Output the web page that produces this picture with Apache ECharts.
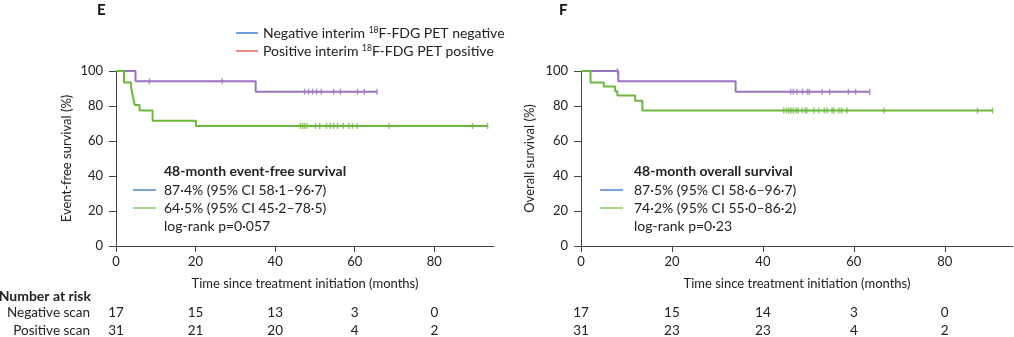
<!DOCTYPE html>
<html>
<head>
<meta charset="utf-8">
<script src="https://cdn.jsdelivr.net/npm/echarts@6/dist/echarts.min.js"></script>
<style>
  html, body { margin: 0; padding: 0; background: #fff; }
  #chart { width: 1014px; height: 337px; }
</style>
</head>
<body>
<div id="chart"></div>
<script>
// Kaplan–Meier curves: step times (months) and survival (%) at each step
const xTicks = [0, 20, 40, 60, 80];
const yTicks = [0, 20, 40, 60, 80, 100];

// Panel E – event-free survival
const efsNegTimes = [0, 4.9, 35.1];
const efsNegSurv = [100, 94.1, 88.2];
const efsNegEnd = 65.6;
const efsNegCensor = [8.4, 26.7, 47.4, 48.4, 49.4, 50.4, 51.6, 54.7, 56.4, 60.7, 62.4, 65.6];

const efsPosTimes = [0, 2.0, 3.8, 4.1, 4.4, 4.7, 5.9, 9.2, 20.1];
const efsPosSurv = [100, 93.5, 90.3, 87.1, 83.9, 80.6, 77.4, 71.6, 68.6];
const efsPosEnd = 93.4;
const efsPosCensor = [46.3, 46.9, 47.4, 48.0, 50.1, 51.2, 52.9, 53.9, 54.7, 55.7, 57.1, 58.5, 59.4, 60.6, 68.6, 89.6, 93.4];

// Panel F – overall survival
const osNegTimes = [0, 8.2, 34.0];
const osNegSurv = [100, 94.1, 88.2];
const osNegEnd = 63.5;
const osNegCensor = [8.0, 46.1, 46.7, 47.5, 48.7, 49.8, 50.2, 53.0, 54.7, 58.8, 60.4, 63.5];

const osPosTimes = [0, 2.1, 5.0, 7.5, 8.0, 11.9, 13.5];
const osPosSurv = [100, 93.5, 91.2, 88.5, 86.0, 83.0, 77.4];
const osPosEnd = 90.5;
const osPosCensor = [44.6, 45.2, 45.7, 46.2, 46.7, 47.3, 47.7, 48.6, 49.3, 49.7, 51.2, 52.3, 53.5, 54.1, 55.2, 55.6, 56.7, 57.3, 58.5, 66.6, 87.2, 90.5];

// Number at risk at 0, 20, 40, 60, 80 months
const efsRiskNeg = [17, 15, 13, 3, 0];
const efsRiskPos = [31, 21, 20, 4, 2];
const osRiskNeg = [17, 15, 14, 3, 0];
const osRiskPos = [31, 23, 23, 4, 2];

const PURPLE = '#9a74c0';
const GREEN = '#6cb83c';
const FONT = 'Lato, "Noto Sans", sans-serif';
const TXT = '#222';

function stepData(times, surv, end) {
  const d = times.map((t, i) => [t, surv[i]]);
  d.push([end, surv[surv.length - 1]]);
  return d;
}
function survAt(times, surv, t) {
  let v = surv[0];
  for (let i = 0; i < times.length; i++) if (times[i] <= t) v = surv[i];
  return v;
}
function censorData(times, surv, cens) {
  return cens.map(t => [t, survAt(times, surv, t)]);
}

function xAxis(gi) {
  return {
    type: 'value', gridIndex: gi, min: 0, max: 95, interval: 20,
    name: 'Time since treatment initiation (months)',
    nameLocation: 'middle', nameGap: 31,
    nameTextStyle: { fontFamily: FONT, fontSize: 13, color: TXT },
    axisLine: { lineStyle: { color: '#444', width: 1 } },
    axisTick: { length: 6, lineStyle: { color: '#444' }, customValues: xTicks },
    axisLabel: { customValues: xTicks, margin: 9, fontFamily: FONT, fontSize: 13, color: TXT },
    splitLine: { show: false }
  };
}
function yAxis(gi, name, gap) {
  return {
    type: 'value', gridIndex: gi, min: 0, max: 100, interval: 20,
    name: name, nameLocation: 'middle', nameGap: gap,
    nameTextStyle: { fontFamily: FONT, fontSize: 13, color: TXT },
    axisLine: { show: true, lineStyle: { color: '#444', width: 1 } },
    axisTick: { show: true, length: 7, lineStyle: { color: '#444' }, customValues: yTicks },
    axisLabel: { customValues: yTicks, margin: 13, fontFamily: FONT, fontSize: 13, color: TXT },
    splitLine: { show: false }
  };
}
function kmLine(gi, data, color) {
  return {
    type: 'line', xAxisIndex: gi, yAxisIndex: gi, step: 'end', data: data,
    symbol: 'none', lineStyle: { color: color, width: 2 }, silent: true, z: 2
  };
}
function censor(gi, data, color) {
  return {
    type: 'scatter', xAxisIndex: gi, yAxisIndex: gi, data: data,
    symbol: 'rect', symbolSize: [1.4, 6], itemStyle: { color: color }, silent: true, z: 3
  };
}

const chart = echarts.init(document.getElementById('chart'), null, { renderer: 'canvas' });
chart.setOption({
  animation: false,
  backgroundColor: '#fff',
  grid: [
    { left: 116, top: 71, width: 378, height: 175 },
    { left: 581, top: 71, width: 432, height: 175 }
  ],
  xAxis: [xAxis(0), xAxis(1)],
  yAxis: [yAxis(0, 'Event-free survival (%)', 43), yAxis(1, 'Overall survival (%)', 45)],
  series: [
    kmLine(0, stepData(efsNegTimes, efsNegSurv, efsNegEnd), PURPLE),
    censor(0, censorData(efsNegTimes, efsNegSurv, efsNegCensor), PURPLE),
    kmLine(0, stepData(efsPosTimes, efsPosSurv, efsPosEnd), GREEN),
    censor(0, censorData(efsPosTimes, efsPosSurv, efsPosCensor), GREEN),
    kmLine(1, stepData(osNegTimes, osNegSurv, osNegEnd), PURPLE),
    censor(1, censorData(osNegTimes, osNegSurv, osNegCensor), PURPLE),
    kmLine(1, stepData(osPosTimes, osPosSurv, osPosEnd), GREEN),
    censor(1, censorData(osPosTimes, osPosSurv, osPosCensor), GREEN)
  ]
});

// Text, legend keys and risk table
const g = [];
function text(x, y, str, opt) {
  g.push({
    type: 'text', x: x, y: y, silent: true,
    style: Object.assign({ text: str, fontFamily: FONT, fontSize: 14, fill: TXT,
      textAlign: 'left', textVerticalAlign: 'middle' }, opt || {})
  });
}
function key(x1, x2, y, color) {
  g.push({ type: 'line', silent: true, shape: { x1: x1, y1: y, x2: x2, y2: y },
    style: { stroke: color, lineWidth: 2 } });
}

text(97, 10, 'E', { fontWeight: 'bold', fontSize: 15, fill: '#111' });
text(559, 10, 'F', { fontWeight: 'bold', fontSize: 15, fill: '#111' });

// legend
const supRich = {
  sup: { fontFamily: FONT, fontSize: 8.5, fill: TXT, verticalAlign: 'top', padding: [0, 0, 5, 0] },
  n: { fontFamily: FONT, fontSize: 14, fill: TXT }
};
key(236, 258, 33, '#6a9fd8');
g.push({ type: 'text', x: 263, y: 33, silent: true,
  style: { text: '{n|Negative interim }{sup|18}{n|F-FDG PET negative}', rich: supRich,
    textVerticalAlign: 'middle', fontFamily: FONT, fontSize: 14, fill: TXT } });
key(236, 258, 51, '#f08a8a');
g.push({ type: 'text', x: 263, y: 51, silent: true,
  style: { text: '{n|Positive interim }{sup|18}{n|F-FDG PET positive}', rich: supRich,
    textVerticalAlign: 'middle', fontFamily: FONT, fontSize: 14, fill: TXT } });

// summary boxes
text(164, 171, '48-month event-free survival', { fontWeight: 'bold' });
key(133, 156, 190, '#78a6dc');
text(164, 190, '87·4% (95% CI 58·1–96·7)');
key(133, 156, 208, '#a6d98a');
text(164, 208, '64·5% (95% CI 45·2–78·5)');
text(164, 226, 'log-rank p=0·057');

text(634, 171, '48-month overall survival', { fontWeight: 'bold' });
key(600, 623, 190, '#78a6dc');
text(634, 190, '87·5% (95% CI 58·6–96·7)');
key(600, 623, 208, '#a6d98a');
text(634, 208, '74·2% (95% CI 55·0–86·2)');
text(634, 226, 'log-rank p=0·23');

// number at risk
text(91, 296, 'Number at risk', { fontWeight: 'bold', textAlign: 'right' });
text(90, 313, 'Negative scan', { textAlign: 'right', fontSize: 13.5 });
text(90, 331, 'Positive scan', { textAlign: 'right', fontSize: 13.5 });
function riskRow(axisIdx, vals, y) {
  xTicks.forEach((t, i) => {
    const px = chart.convertToPixel({ xAxisIndex: axisIdx }, t);
    text(px, y, String(vals[i]), { textAlign: 'center', fontSize: 13.5 });
  });
}
riskRow(0, efsRiskNeg, 313);
riskRow(0, efsRiskPos, 331);
riskRow(1, osRiskNeg, 313);
riskRow(1, osRiskPos, 331);

chart.setOption({ graphic: { elements: g } });
</script>
</body>
</html>
